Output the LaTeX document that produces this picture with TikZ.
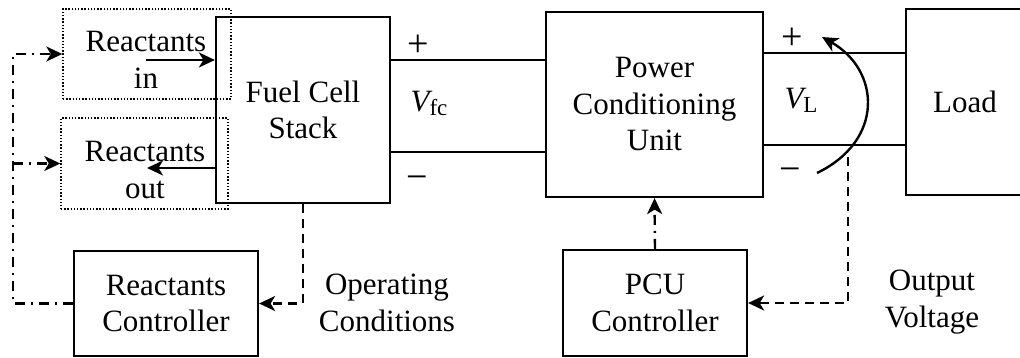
\documentclass[tikz,border=0pt]{standalone}
\usepackage{fontspec}
\setmainfont{Liberation Serif}
\usetikzlibrary{arrows.meta}
\begin{document}
\begin{tikzpicture}[x=1pt,y=-1pt,
  font=\fontsize{31}{36.5}\selectfont,
  box/.style={draw, line width=2.2pt, align=center, inner sep=0pt},
  dotbox/.style={draw, line width=1.4pt, dash pattern=on 1.4pt off 1.8pt, inner sep=0pt},
  wire/.style={line width=1.5pt},
  dashln/.style={line width=2.4pt, dash pattern=on 9pt off 6pt},
  dashdotln/.style={line width=2.4pt, dash pattern=on 10pt off 6pt on 2pt off 6pt},
  arr/.style={-{Stealth[length=16pt,width=15pt,inset=4.5pt]}},
  lbl/.style={align=center, inner sep=0pt},
  sgn/.style={inner sep=0pt, font=\fontsize{38}{38}\selectfont}]
\useasboundingbox (0,0) rectangle (1020,358);

% blocks
\node[box, minimum width=174pt, minimum height=186pt] (fc) at (303,110) {Fuel Cell\\Stack};
\node[box, minimum width=217pt, minimum height=185pt] (pcu) at (654.5,104.5) {Power\\Conditioning\\Unit};
\node[box, minimum width=118pt, minimum height=186pt] (load) at (965,102) {Load};
\node[box, minimum width=184pt, minimum height=105pt] (rc) at (166,303.5) {Reactants\\Controller};
\node[box, minimum width=184pt, minimum height=106pt] (pcuc) at (655,303) {PCU\\Controller};

% dotted reactant boxes
\node[dotbox, minimum width=168pt, minimum height=90pt] (rin) at (147,54) {};
\node[dotbox, minimum width=167pt, minimum height=91pt] (rout) at (144.5,163.5) {};
\node[lbl] (tin) at (146,60) {Reactants\\in};
\node[lbl] (tout) at (145,170) {Reactants\\out};

% reactant flow arrows
\coordinate (ia) at (146,60);
\coordinate (oa) at (147,168);
\draw[line width=2.4pt, arr] (ia) -- (ia -| fc.west);
\draw[line width=2.4pt, arr] (oa -| fc.west) -- (oa);

% power wires
\coordinate (yp1) at (0,60);
\coordinate (ym1) at (0,152);
\coordinate (yp2) at (0,53);
\coordinate (ym2) at (0,145);
\draw[wire] (fc.east |- yp1) -- (pcu.west |- yp1);
\draw[wire] (fc.east |- ym1) -- (pcu.west |- ym1);
\draw[wire] (pcu.east |- yp2) -- (load.west |- yp2);
\draw[wire] (pcu.east |- ym2) -- (load.west |- ym2);

% voltage labels
\node[sgn] (pf) at (418,46) {+};
\node[lbl] (vf) at (429,103) {{\itshape V}\raisebox{-4pt}{\fontsize{23}{23}\selectfont fc}};
\node[sgn] (mf) at (417,183) {−};
\node[sgn] (pl) at (792,39) {+};
\node[lbl] (vl) at (801,100) {{\itshape V}\raisebox{-4pt}{\fontsize{23}{23}\selectfont L}};
\node[sgn] (ml) at (790,175) {−};

% curved voltage arrow
\coordinate (cs) at (817,173);
\coordinate (ce) at (822,37);
\draw[line width=2.4pt, arr] (cs) .. controls (885,140) and (880,70) .. (ce);

% feedback: operating conditions
\draw[dashln, arr] (fc.south) |- (rc.east);
\node[lbl] (opc) at (387,303) {Operating\\Conditions};

% feedback: output voltage
\coordinate (vs) at (848,157);
\draw[dashln, arr] (vs) |- (pcuc.east);
\node[lbl] (ov) at (932,302) {Output\\Voltage};

% control signals
\draw[dashdotln, arr] (pcuc.north) -- (pcu.south);
\coordinate (L) at (13,0);
\draw[dashdotln, arr] (rc.west) -- (rc.west -| L) -- (L |- rin.west) -- (rin.west);
\draw[dashdotln, arr] (L |- rout.west) -- (rout.west);
\end{tikzpicture}
\end{document}
